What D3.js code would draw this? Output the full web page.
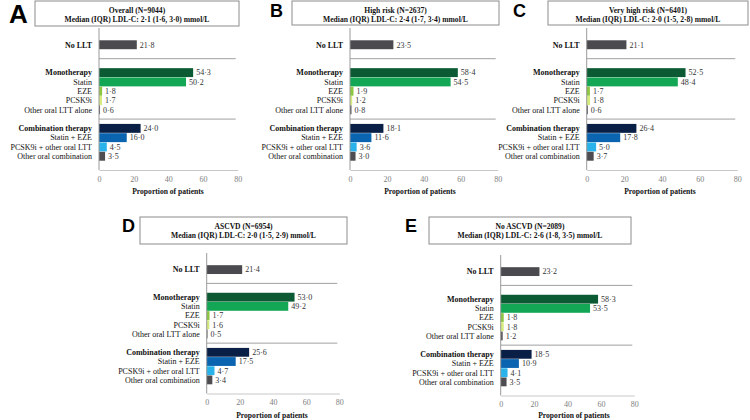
<!DOCTYPE html>
<html>
<head>
<meta charset="utf-8">
<script src="https://cdn.jsdelivr.net/npm/d3@7"></script>
<style>
  body { margin: 0; background: #fff; }
  text { font-family: "Liberation Serif", "Times New Roman", serif; }
</style>
</head>
<body>
<svg class="canvas" width="750" height="420"></svg>
<script>
const categories = [
  "No LLT",
  "Monotherapy",
  "Statin",
  "EZE",
  "PCSK9i",
  "Other oral LTT alone",
  "Combination therapy",
  "Statin + EZE",
  "PCSK9i + other oral LTT",
  "Other oral combination",
];
const boldRows = ["No LLT", "Monotherapy", "Combination therapy"];

const overall = [21.8, 54.3, 50.2, 1.8, 1.7, 0.6, 24.0, 16.0, 4.5, 3.5];
const highRisk = [23.5, 58.4, 54.5, 1.9, 1.2, 0.8, 18.1, 11.6, 3.6, 3.0];
const veryHighRisk = [21.1, 52.5, 48.4, 1.7, 1.8, 0.6, 26.4, 17.8, 5.0, 3.7];
const ascvd = [21.4, 53.0, 49.2, 1.7, 1.6, 0.5, 25.6, 17.5, 4.7, 3.4];
const noAscvd = [23.2, 58.3, 53.5, 1.8, 1.8, 1.2, 18.5, 10.9, 4.1, 3.5];

const xTicks = [0, 20, 40, 60, 80];
const axisTitle = "Proportion of patients";

const titles = {
  A: ["Overall (N=9044)", "Median (IQR) LDL-C: 2·1 (1·6, 3·0) mmol/L"],
  B: ["High risk (N=2637)", "Median (IQR) LDL-C: 2·4 (1·7, 3·4) mmol/L"],
  C: ["Very high risk (N=6401)", "Median (IQR) LDL-C: 2·0 (1·5, 2·8) mmol/L"],
  D: ["ASCVD (N=6954)", "Median (IQR) LDL-C: 2·0 (1·5, 2·9) mmol/L"],
  E: ["No ASCVD (N=2089)", "Median (IQR) LDL-C: 2·6 (1·8, 3·5) mmol/L"],
};

const colours = [
  "#4a4a4f", "#0b5a34", "#13a655", "#8dc63f", "#d5eb7c", "#555559",
  "#0a1f45", "#0a64b0", "#2ab3ea", "#4d4d51",
];

// layout of each panel (pixels)
const panels = [
  { key: "A", values: overall, xr: [99, 237.7], yr: [31, 170], box: [35, 1, 204, 25],
    letter: [9, 23, 26], label: [168, 194] },
  { key: "B", values: highRisk, xr: [350, 497.7], yr: [31, 170], box: [292, 1, 207, 24],
    letter: [270, 17, 18], label: [420, 194] },
  { key: "C", values: veryHighRisk, xr: [586.7, 737.3], yr: [31, 170], box: [548, 1, 200, 24],
    letter: [513, 17, 18], label: [660, 194] },
  { key: "D", values: ascvd, xr: [206.7, 339.3], yr: [256, 393.5], box: [140, 217, 207, 27],
    letter: [122, 232, 18], label: [272, 418] },
  { key: "E", values: noAscvd, xr: [500.7, 634.3], yr: [258, 395.5], box: [429, 217, 202, 27],
    letter: [405, 232, 18], label: [574, 418] },
];

const rows = ["_a", categories[0], "_b", "_c", ...categories.slice(1, 6), "_d",
  ...categories.slice(6), "_e"];

const svg = d3.select(".canvas");
const fmt = (v) => d3.format(".1f")(v).replace(".", "·");

panels.forEach((p) => {
  const g = svg.append("g");

  const x = d3.scaleLinear().domain([0, 80]).range(p.xr);
  const y = d3.scaleBand().domain(rows).range(p.yr).paddingInner(0.04);

  const data = categories.map((c, i) => ({ name: c, value: p.values[i], colour: colours[i] }));

  // title box
  g.append("rect")
    .attr("x", p.box[0]).attr("y", p.box[1])
    .attr("width", p.box[2]).attr("height", p.box[3])
    .attr("fill", "#fff").attr("stroke", "#8c8c8c").attr("stroke-width", 1);
  titles[p.key].forEach((t, i) => {
    g.append("text")
      .attr("x", p.box[0] + p.box[2] / 2)
      .attr("y", p.box[1] + 11.5 + i * 9)
      .attr("text-anchor", "middle")
      .attr("font-size", 7.6).attr("font-weight", "bold").attr("fill", "#111")
      .text(t);
  });
  g.append("text")
    .attr("x", p.letter[0]).attr("y", p.letter[1])
    .style("font-family", "'Liberation Sans', Arial, sans-serif")
    .attr("font-size", p.letter[2]).attr("font-weight", "bold").attr("fill", "#000")
    .text(p.key);

  // separators between groups
  const mid = (a, b) => (y(a) + y(b)) / 2 + y.bandwidth() / 2;
  [mid(categories[0], categories[1]), mid(categories[5], categories[6])].forEach((sy) => {
    g.append("line")
      .attr("x1", p.xr[0]).attr("x2", p.xr[1] - 2)
      .attr("y1", sy).attr("y2", sy)
      .attr("stroke", "#a0a0a0").attr("stroke-width", 1);
  });

  // bars
  g.selectAll("rect.bar").data(data).enter().append("rect")
    .attr("class", "bar")
    .attr("x", x(0))
    .attr("y", (d) => y(d.name))
    .attr("width", (d) => x(d.value) - x(0))
    .attr("height", y.bandwidth())
    .attr("fill", (d) => d.colour);

  // value labels
  g.selectAll("text.val").data(data).enter().append("text")
    .attr("class", "val")
    .attr("x", (d) => x(d.value) + 3)
    .attr("y", (d) => y(d.name) + y.bandwidth() / 2)
    .attr("dy", "0.35em")
    .attr("font-size", 8).attr("fill", "#333")
    .text((d) => fmt(d.value));

  // category labels
  g.selectAll("text.cat").data(data).enter().append("text")
    .attr("class", "cat")
    .attr("x", p.xr[0] - 7)
    .attr("y", (d) => y(d.name) + y.bandwidth() / 2)
    .attr("dy", "0.35em")
    .attr("text-anchor", "end")
    .attr("font-size", 8)
    .attr("font-weight", (d) => (boldRows.includes(d.name) ? "bold" : "normal"))
    .attr("fill", "#111")
    .text((d) => d.name);

  // y axis line
  g.append("line")
    .attr("x1", x(0)).attr("x2", x(0))
    .attr("y1", p.yr[0] - 3).attr("y2", p.yr[1])
    .attr("stroke", "#9a9a9a").attr("stroke-width", 1);

  // x axis
  const xAxisGroup = g.append("g").attr("transform", `translate(0,${p.yr[1]})`);
  xAxisGroup.call(d3.axisBottom(x).tickValues(xTicks).tickSize(0).tickPadding(6));
  xAxisGroup.select(".domain").attr("stroke", "#c8c8c8");
  xAxisGroup.selectAll("text")
    .attr("font-size", 8)
    .attr("fill", "#808080")
    .style("font-family", "'Liberation Serif', serif");

  g.append("text")
    .attr("x", p.label[0]).attr("y", p.label[1])
    .attr("text-anchor", "middle")
    .attr("font-size", 7.6).attr("font-weight", "bold").attr("fill", "#111")
    .text(axisTitle);
});
</script>
</body>
</html>
